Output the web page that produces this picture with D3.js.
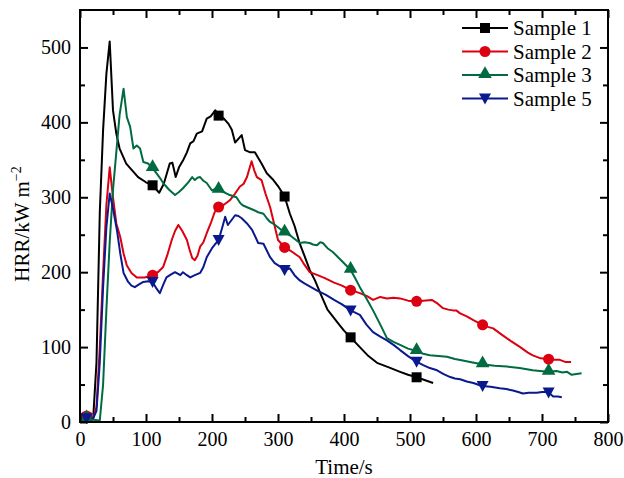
<!DOCTYPE html>
<html>
<head>
<meta charset="utf-8">
<script src="https://cdn.jsdelivr.net/npm/d3@7"></script>
<style>
  body { margin: 0; background: #fff; }
  text { font-family: "Liberation Serif", "Times New Roman", serif; }
</style>
</head>
<body>
<div id="chart"></div>
<script>
// HRR curves, [time s, HRR kW/m2]
const sample1 = [[0,4],[10,6],[20,5],[25,80],[30,280],[35,390],[40,465],[45,508],[50,416],[55,385],[60,365],[70,345],[80,335],[88,327],[100,320],[110,316],[120,306],[127,318],[136,345],[140,346],[145,327],[150,340],[156,349],[162,360],[167,372],[172,375],[177,385],[185,388],[192,405],[198,408],[205,416],[210,409],[218,405],[225,398],[230,390],[235,373],[240,378],[245,383],[250,363],[258,360],[265,360],[275,345],[283,332],[293,323],[300,315],[310,301],[318,278],[325,262],[333,238],[340,222],[348,203],[356,189],[365,170],[375,150],[390,133],[400,122],[410,113],[424,100],[437,88],[450,79],[468,73],[485,67],[497,63],[509,60],[522,56],[535,52]];
const sample2 = [[0,5],[10,8],[20,5],[25,20],[30,100],[35,200],[40,290],[45,340],[50,300],[55,265],[61,247],[66,225],[71,209],[78,199],[86,193],[98,193],[110,196],[118,200],[126,207],[132,222],[139,243],[144,255],[149,263],[155,255],[162,243],[166,230],[170,219],[174,216],[178,222],[182,234],[187,240],[192,252],[198,265],[204,280],[210,287],[218,290],[227,296],[235,305],[242,314],[248,318],[253,327],[260,348],[264,336],[268,327],[275,323],[281,305],[288,287],[294,265],[300,243],[310,233],[320,228],[333,220],[340,210],[348,200],[360,196],[371,192],[385,186],[397,182],[410,176],[424,172],[435,168],[444,163],[455,167],[465,165],[475,166],[485,165],[497,162],[509,161],[520,162],[533,163],[542,158],[550,152],[558,150],[565,149],[570,149],[576,145],[586,141],[596,136],[609,130],[618,127],[626,125],[640,116],[653,108],[667,100],[678,93],[686,89],[698,85],[709,84],[718,83],[727,83],[736,80],[744,80]];
const sample3 = [[0,3],[10,5],[20,3],[30,2],[35,50],[40,150],[45,240],[50,310],[55,360],[60,410],[66,445],[71,407],[76,394],[81,365],[86,369],[91,365],[96,347],[103,345],[110,339],[116,332],[121,326],[126,319],[135,310],[144,303],[150,307],[156,312],[164,320],[170,327],[174,323],[178,326],[182,327],[187,322],[192,319],[200,309],[206,312],[212,309],[220,306],[227,303],[237,300],[243,292],[247,289],[255,286],[263,283],[270,280],[278,278],[283,272],[288,267],[294,264],[300,260],[310,253],[320,248],[333,239],[340,240],[348,239],[353,237],[359,236],[364,240],[368,239],[375,232],[383,227],[391,220],[399,213],[410,203],[417,192],[424,180],[434,165],[444,149],[455,130],[465,112],[475,107],[485,103],[497,98],[509,95],[520,91],[530,89],[543,88],[556,87],[568,84],[580,82],[591,80],[609,77],[628,75],[647,74],[666,72],[686,69],[697,68],[709,67],[722,68],[731,66],[738,67],[745,63],[752,64],[760,65]];
const sample5 = [[0,5],[10,5],[20,5],[25,15],[30,80],[35,180],[40,260],[45,305],[50,285],[56,256],[61,225],[66,199],[73,187],[78,182],[83,180],[90,184],[96,187],[103,188],[110,187],[116,178],[121,172],[126,183],[131,193],[138,197],[144,200],[148,198],[152,196],[156,200],[162,196],[167,193],[174,196],[182,199],[187,207],[192,220],[200,232],[210,243],[215,258],[220,274],[224,263],[230,270],[235,276],[240,275],[245,272],[253,265],[261,256],[270,239],[278,238],[283,229],[288,220],[295,212],[304,207],[310,203],[318,205],[325,196],[333,189],[340,185],[350,180],[360,175],[372,170],[385,163],[397,157],[410,149],[424,143],[434,130],[444,120],[455,114],[465,109],[475,103],[485,96],[497,88],[509,81],[520,76],[530,72],[541,69],[551,64],[561,60],[568,58],[576,57],[586,54],[596,52],[609,48],[622,47],[636,45],[646,44],[656,42],[664,40],[671,38],[680,39],[692,39],[700,40],[709,40],[717,34],[724,34],[730,33]];

const seriesNames = ["Sample 1", "Sample 2", "Sample 3", "Sample 5"];
const seriesData = [sample1, sample2, sample3, sample5];
const seriesColors = ["#000000", "#dc0010", "#006b40", "#0a1a8e"];
const seriesShapes = [d3.symbolSquare, d3.symbolCircle, d3.symbolTriangle, "down"];
const markerTimes = [10, 110, 210, 310, 410, 510, 610, 710];

const xTicks = [0, 100, 200, 300, 400, 500, 600, 700, 800];
const yTicks = [0, 100, 200, 300, 400, 500];

const serif = '"Liberation Serif", "Times New Roman", serif';
const width = 624, height = 478;
const margin = { top: 10, right: 16, bottom: 56, left: 80 };
const plotW = width - margin.left - margin.right;
const plotH = height - margin.top - margin.bottom;

const svg = d3.select("#chart").append("svg")
    .attr("width", width)
    .attr("height", height);

const g = svg.append("g")
    .attr("transform", `translate(${margin.left},${margin.top})`);

const x = d3.scaleLinear().domain([0, 800]).range([0, plotW]);
const y = d3.scaleLinear().domain([0, 550]).range([plotH, 0]);

// marker shapes
function markerPath(shape) {
    if (shape === "down") {
        return "M-6,-5L6,-5L0,6Z";
    }
    const size = shape === d3.symbolSquare ? 100 : shape === d3.symbolCircle ? 95 : 80;
    return d3.symbol().type(shape).size(size)();
}
function markerOffset(shape) {
    return shape === d3.symbolTriangle ? -1 : 0;
}

// curves
const line = d3.line().x(d => x(d[0])).y(d => y(d[1]));

seriesData.forEach((data, i) => {
    g.append("path")
        .datum(data)
        .attr("fill", "none")
        .attr("stroke", seriesColors[i])
        .attr("stroke-width", 2)
        .attr("stroke-linejoin", "round")
        .attr("d", line);
});

// markers at every 100 s
seriesData.forEach((data, i) => {
    const last = data[data.length - 1][0];
    const pts = markerTimes.filter(t => t <= last).map(t => {
        const j = d3.bisector(d => d[0]).left(data, t);
        const a = data[Math.max(0, j - 1)], b = data[Math.min(data.length - 1, j)];
        const v = b[0] === a[0] ? a[1] : a[1] + (b[1] - a[1]) * (t - a[0]) / (b[0] - a[0]);
        return [t, v];
    });
    g.selectAll(null)
        .data(pts)
        .enter()
        .append("path")
        .attr("d", markerPath(seriesShapes[i]))
        .attr("transform", d => `translate(${x(d[0])},${y(d[1]) + markerOffset(seriesShapes[i])})`)
        .attr("fill", seriesColors[i]);
});

// axes, ticks inward on all four sides
const tickStyle = sel => {
    sel.attr("font-family", serif);
    sel.select(".domain").remove();
    sel.selectAll("line").attr("stroke", "#000").attr("stroke-width", 2);
};
const minorX = d3.range(50, 800, 100);
const minorY = d3.range(50, 550, 100);

const xAxis = g.append("g")
    .attr("transform", `translate(0,${plotH})`)
    .call(d3.axisBottom(x).tickValues(xTicks).tickSize(-8).tickPadding(10))
    .call(tickStyle);
xAxis.selectAll("text").style("font-size", "20px").style("font-family", serif).attr("fill", "#000");
g.append("g").attr("transform", `translate(0,${plotH})`)
    .call(d3.axisBottom(x).tickValues(minorX).tickSize(-5).tickFormat(""))
    .call(tickStyle);

const yAxis = g.append("g")
    .call(d3.axisLeft(y).tickValues(yTicks).tickSize(-8).tickPadding(9))
    .call(tickStyle);
yAxis.selectAll("text").style("font-size", "20px").style("font-family", serif).attr("fill", "#000");
g.append("g")
    .call(d3.axisLeft(y).tickValues(minorY).tickSize(-5).tickFormat(""))
    .call(tickStyle);

g.append("g")
    .call(d3.axisTop(x).tickValues(xTicks).tickSize(-8).tickFormat(""))
    .call(tickStyle);
g.append("g")
    .call(d3.axisTop(x).tickValues(minorX).tickSize(-5).tickFormat(""))
    .call(tickStyle);
g.append("g").attr("transform", `translate(${plotW},0)`)
    .call(d3.axisRight(y).tickValues(yTicks).tickSize(-8).tickFormat(""))
    .call(tickStyle);
g.append("g").attr("transform", `translate(${plotW},0)`)
    .call(d3.axisRight(y).tickValues(minorY).tickSize(-5).tickFormat(""))
    .call(tickStyle);

// frame
g.append("rect")
    .attr("width", plotW)
    .attr("height", plotH)
    .attr("fill", "none")
    .attr("stroke", "#000")
    .attr("stroke-width", 2);

// axis titles
svg.append("text")
    .attr("x", margin.left + plotW / 2)
    .attr("y", 474)
    .attr("text-anchor", "middle")
    .style("font-size", "21px")
    .text("Time/s");

const yTitle = svg.append("text")
    .attr("transform", `translate(29,${margin.top + plotH / 2 + 8}) rotate(-90)`)
    .attr("text-anchor", "middle")
    .style("font-size", "21px");
yTitle.append("tspan").text("HRR/kW m");
yTitle.append("tspan").attr("dy", -8).style("font-size", "14px").text("\u22122");

// legend
const legend = svg.append("g").attr("transform", "translate(462,28)");
seriesNames.forEach((name, i) => {
    const row = legend.append("g").attr("transform", `translate(0,${i * 23.5})`);
    row.append("line")
        .attr("x1", 0).attr("x2", 46)
        .attr("stroke", seriesColors[i])
        .attr("stroke-width", 2);
    row.append("path")
        .attr("d", markerPath(seriesShapes[i]))
        .attr("transform", `translate(23,${markerOffset(seriesShapes[i])})`)
        .attr("fill", seriesColors[i]);
    row.append("text")
        .attr("x", 51)
        .attr("y", 7)
        .style("font-size", "21px")
        .text(name);
});
</script>
</body>
</html>
